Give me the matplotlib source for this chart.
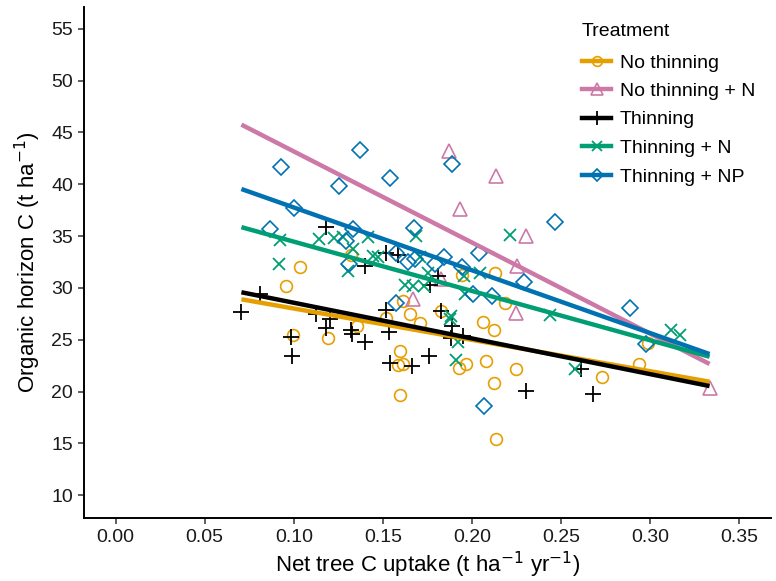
import matplotlib
matplotlib.use("Agg")
import matplotlib.pyplot as plt
from matplotlib.lines import Line2D
import numpy as np

plt.rcParams['font.family'] = ['Liberation Sans', 'DejaVu Sans']

# ---- data ----
no_thin_x = [0.0958, 0.1033, 0.0996, 0.1192, 0.1323, 0.1355, 0.1516, 0.1597, 0.1587, 0.1613,
             0.1597, 0.1613, 0.1655, 0.1707, 0.1829, 0.1946, 0.2128, 0.2188, 0.2063, 0.2122,
             0.2078, 0.1965, 0.1926, 0.2250, 0.2126, 0.2733, 0.2134, 0.2938, 0.2989]
no_thin_y = [30.2, 32.0, 25.5, 25.2, 33.2, 26.3, 27.1, 23.9, 22.6, 22.7,
             19.7, 28.7, 27.5, 26.6, 27.8, 31.2, 31.4, 28.5, 26.7, 25.9,
             22.9, 22.7, 22.3, 22.2, 20.8, 21.4, 15.4, 22.7, 24.7]

no_thin_n_x = [0.1871, 0.2134, 0.1935, 0.2306, 0.2253, 0.1825, 0.1669, 0.2250, 0.3335]
no_thin_n_y = [43.2, 40.8, 37.6, 35.0, 32.1, 30.9, 28.9, 27.6, 20.3]

thin_x = [0.0706, 0.0812, 0.0986, 0.0992, 0.1127, 0.1179, 0.1183, 0.1202, 0.1323, 0.1329,
          0.1398, 0.1398, 0.1516, 0.1535, 0.1542, 0.1666, 0.1520, 0.1585, 0.1763, 0.1810,
          0.1825, 0.1890, 0.1950, 0.1885, 0.1759, 0.2302, 0.2615, 0.2680]
thin_y = [27.7, 29.4, 25.3, 23.4, 27.5, 26.1, 35.9, 27.0, 25.9, 25.6,
          24.8, 32.1, 27.9, 25.7, 22.8, 22.5, 33.4, 33.2, 30.3, 31.1,
          27.8, 26.3, 25.4, 25.2, 23.4, 20.1, 22.2, 19.8]

thin_n_x = [0.0925, 0.0917, 0.1141, 0.1224, 0.1276, 0.1332, 0.1417, 0.1445, 0.1304, 0.1688,
            0.2212, 0.1473, 0.1707, 0.1754, 0.1623, 0.1669, 0.1731, 0.1956, 0.2044, 0.1963,
            0.1881, 0.1879, 0.1924, 0.1909, 0.2441, 0.2577, 0.3120, 0.3171]
thin_n_y = [34.6, 32.3, 34.7, 34.8, 34.9, 33.8, 34.9, 33.1, 31.6, 35.0,
            35.1, 33.0, 33.0, 31.4, 30.3, 30.2, 30.2, 31.1, 31.4, 29.4,
            27.3, 27.0, 24.8, 23.0, 27.4, 22.2, 25.9, 25.5]

thin_np_x = [0.0869, 0.0930, 0.0999, 0.1254, 0.1374, 0.1542, 0.1332, 0.1291, 0.1310, 0.1675,
             0.1576, 0.1679, 0.1641, 0.1843, 0.1795, 0.2038, 0.1944, 0.2008, 0.2113, 0.1576,
             0.2293, 0.2066, 0.1887, 0.2465, 0.2886, 0.2980]
thin_np_y = [35.7, 41.7, 37.7, 39.8, 43.3, 40.6, 35.7, 34.5, 32.3, 35.8,
             33.4, 32.8, 32.5, 33.0, 32.3, 33.4, 32.0, 29.4, 29.2, 28.5,
             30.6, 18.6, 42.0, 36.4, 28.1, 24.6]

treatments = ["No thinning", "No thinning + N", "Thinning", "Thinning + N", "Thinning + NP"]
# fitted line values at the ends of the overall x range (start, end)
fit_start = [28.9, 45.75, 29.58, 35.86, 39.54]
fit_end = [20.95, 22.66, 20.53, 23.36, 23.62]

x_ticks = [0.00, 0.05, 0.10, 0.15, 0.20, 0.25, 0.30, 0.35]
y_ticks = [10, 15, 20, 25, 30, 35, 40, 45, 50, 55]

# ---- styling ----
colors = ["#E69F00", "#CC79A7", "#000000", "#009E73", "#0072B2"]
markers = ["o", "^", "+", "x", "D"]
msizes = [8.5, 9.5, 12, 9, 8]
xs = [no_thin_x, no_thin_n_x, thin_x, thin_n_x, thin_np_x]
ys = [no_thin_y, no_thin_n_y, thin_y, thin_n_y, thin_np_y]

fig = plt.figure(figsize=(7.76, 5.81), dpi=100)
ax = fig.add_axes([84 / 776, 1 - 518 / 581, (771 - 84) / 776, (518 - 7) / 581])

all_x = np.concatenate([np.array(v) for v in xs])
xmin, xmax = all_x.min(), all_x.max()

for i in range(5):
    c = colors[i]
    if markers[i] in ("o", "^", "D"):
        ax.plot(xs[i], ys[i], linestyle="none", marker=markers[i], markersize=msizes[i],
                markerfacecolor="none", markeredgecolor=c, markeredgewidth=1.2, zorder=2)
    else:
        ax.plot(xs[i], ys[i], linestyle="none", marker=markers[i], markersize=msizes[i],
                color=c, markeredgewidth=1.3, zorder=2)

for i in range(5):
    ax.plot([xmin, xmax], [fit_start[i], fit_end[i]], color=colors[i], lw=3.2,
            solid_capstyle="butt", zorder=3)

ax.set_xlim(-0.0178, 0.368)
ax.set_ylim(7.8, 57.1)
ax.set_xticks(x_ticks)
ax.set_xticklabels([f"{v:.2f}" for v in x_ticks])
ax.set_yticks(y_ticks)
ax.set_yticklabels([str(v) for v in y_ticks])
ax.tick_params(axis="both", labelsize=14, length=4, width=1.1, color="#333333",
               labelcolor="#1a1a1a", pad=4)
for s in ["top", "right"]:
    ax.spines[s].set_visible(False)
for s in ["left", "bottom"]:
    ax.spines[s].set_linewidth(1.4)
    ax.spines[s].set_color("black")

ax.set_xlabel("Net tree C uptake (t ha$^{-1}$ yr$^{-1}$)", fontsize=16, labelpad=3)
ax.set_ylabel("Organic horizon C (t ha$^{-1}$)", fontsize=16, labelpad=6)

handles = []
for i in range(5):
    if markers[i] in ("o", "^", "D"):
        h = Line2D([], [], color=colors[i], lw=3.2, marker=markers[i], markersize=msizes[i] - 1.5,
                   markerfacecolor="none", markeredgecolor=colors[i], markeredgewidth=1.2)
    else:
        h = Line2D([], [], color=colors[i], lw=3.2, marker=markers[i], markersize=msizes[i] - 2,
                   markeredgewidth=1.3)
    handles.append(h)

leg = ax.legend(handles, treatments, title="Treatment", loc="upper left",
                bbox_to_anchor=(582 / 776, 1 - 23 / 581), bbox_transform=fig.transFigure,
                frameon=False, fontsize=14, title_fontsize=14, handlelength=1.5,
                handletextpad=0.45, labelspacing=0.56, alignment="left", borderpad=0,
                borderaxespad=0)
leg._legend_box.sep = 10

fig.savefig("out.png", dpi=100)
